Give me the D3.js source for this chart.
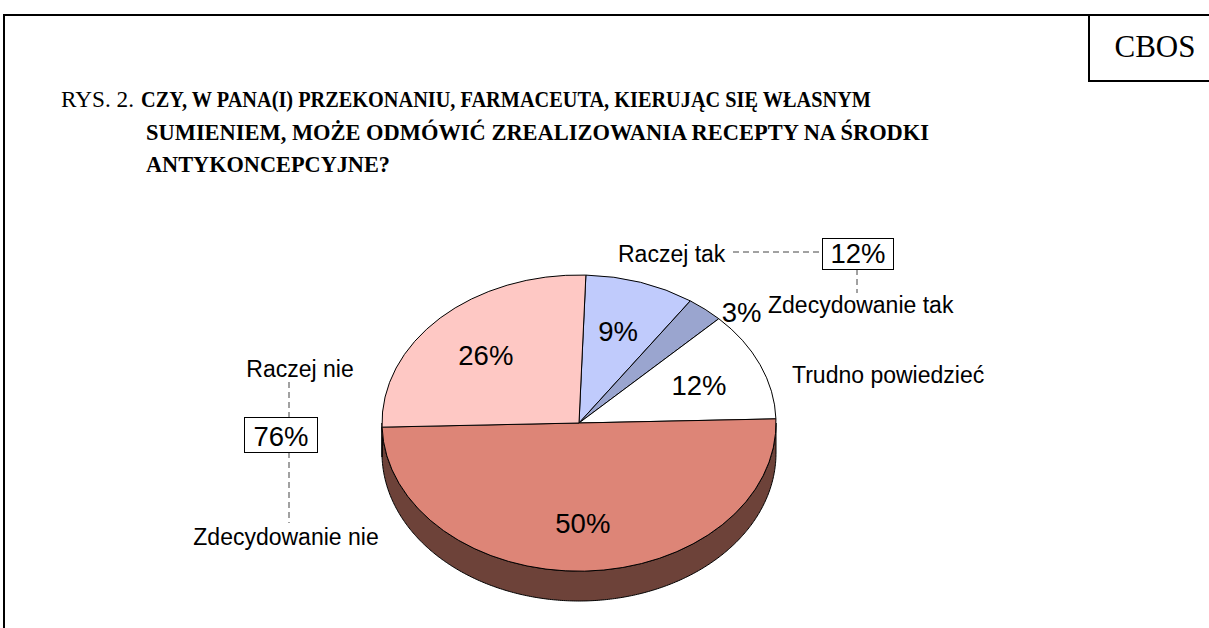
<!DOCTYPE html>
<html>
<head>
<meta charset="utf-8">
<script src="https://cdnjs.cloudflare.com/ajax/libs/d3/7.8.5/d3.min.js"></script>
<style>
  body { margin: 0; background: #fff; }
  svg { display: block; }
</style>
</head>
<body>
<div id="viz"></div>
<script>
// answers, values (%) and colours, clockwise from the top
const categories = ['Raczej tak', 'Zdecydowanie tak', 'Trudno powiedzieć', 'Zdecydowanie nie', 'Raczej nie'];
const values = [9, 3, 12, 50, 26];
const faceColors = ['#c0cbfc', '#9aa5cf', '#ffffff', '#dd8577', '#fec8c4'];
const sideColors = ['#6a7096', '#5a6180', '#9a9a9a', '#6d4239', '#8c6a68'];

// grouped totals shown in boxes
const groups = [
  { total: '12%', top: 'Raczej tak', bottom: 'Zdecydowanie tak' },
  { total: '76%', top: 'Raczej nie', bottom: 'Zdecydowanie nie' }];

const titleLead = 'RYS. 2. ';
const titleLines = [
  'CZY, W PANA(I) PRZEKONANIU, FARMACEUTA, KIERUJĄC SIĘ WŁASNYM',
  'SUMIENIEM, MOŻE ODMÓWIĆ ZREALIZOWANIA RECEPTY NA ŚRODKI',
  'ANTYKONCEPCYJNE?'];

const w = 1209;
const h = 628;

const svg = d3.select('#viz').
append('svg').
attr('width', w).
attr('height', h);

// page frame + CBOS box
svg.append('path').
attr('d', 'M4,628 V15 H1209 M1089,15 V81 H1209').
attr('fill', 'none').
attr('stroke', '#000').
attr('stroke-width', 2);

svg.append('text').
attr('x', 1155).
attr('y', 57).
attr('text-anchor', 'middle').
attr('font-family', 'Liberation Serif, Times New Roman, serif').
attr('font-size', 31).
attr('textLength', 81).
attr('lengthAdjust', 'spacingAndGlyphs').
text('CBOS');

// title
const title = svg.append('g').
attr('font-family', 'Liberation Serif, Times New Roman, serif').
attr('font-size', 23.5);

title.append('text').
attr('x', 61).
attr('y', 107).
attr('textLength', 73).
attr('lengthAdjust', 'spacingAndGlyphs').
text(titleLead.trim());

// line widths as in the printed figure
const titleX = [141, 146, 146];
const titleW = [730, 783, 244];

title.selectAll('text.line').
data(titleLines).
enter().
append('text').
attr('class', 'line').
attr('x', (d, i) => titleX[i]).
attr('y', (d, i) => 107 + i * 32.5).
attr('font-weight', 'bold').
attr('textLength', (d, i) => titleW[i]).
attr('lengthAdjust', 'spacingAndGlyphs').
text(d => d);

// pie, drawn as a tilted ellipse
const cx = 579;
const cy = 423;
const rx = 197;
const ry = 148;
const depth = 30;

const pie = d3.pie().
sort(null).
startAngle(2 * Math.PI / 180).
endAngle(2 * Math.PI / 180 + 2 * Math.PI).
value(d => d);

const slices = pie(values);

const px = a => cx + rx * Math.sin(a);
const py = a => cy - ry * Math.cos(a);

// visible side band (front half only)
const side = d => {
  const a0 = Math.max(d.startAngle, Math.PI / 2);
  const a1 = Math.min(d.endAngle, Math.PI * 3 / 2);
  if (a1 <= a0) return null;
  const top = d3.range(a0, a1, 0.01).concat([a1]);
  const pts = top.map(a => [px(a), py(a)]).
  concat(top.slice().reverse().map(a => [px(a), py(a) + depth]));
  return d3.line()(pts) + 'Z';
};

const pieG = svg.append('g');

pieG.selectAll('path.side').
data(slices.filter(d => side(d) != null)).
enter().
append('path').
attr('class', 'side').
attr('d', side).
attr('fill', d => sideColors[d.index]).
attr('stroke', '#000').
attr('stroke-width', 1);

const arc = d3.arc().
innerRadius(0).
outerRadius(rx);

pieG.append('g').
attr('transform', `translate(${cx},${cy}) scale(1,${ry / rx})`).
selectAll('path.face').
data(slices).
enter().
append('path').
attr('class', 'face').
attr('d', arc).
attr('fill', d => faceColors[d.index]).
attr('stroke', '#000').
attr('stroke-width', 1).
attr('vector-effect', 'non-scaling-stroke');

// percentage labels: radial factors (x, y) along each slice's middle
const labelPos = [
  [0.634, 0.654], // 9%
  [1.29, 0.98], // 3%
  [0.663, 0.652], // 12%
  [0.7, 0.676], // 50%
  [0.671, 0.647]]; // 26%

svg.append('g').
attr('font-family', 'Liberation Sans, Arial, sans-serif').
attr('font-size', 27.5).
selectAll('text').
data(slices).
enter().
append('text').
attr('text-anchor', 'middle').
attr('x', d => {
  const a = (d.startAngle + d.endAngle) / 2;
  return cx + rx * labelPos[d.index][0] * Math.sin(a);
}).
attr('y', d => {
  const a = (d.startAngle + d.endAngle) / 2;
  return cy - ry * labelPos[d.index][1] * Math.cos(a) + 10;
}).
text(d => d.data + '%');

// category labels
const catPos = [
  [618, 262, 'start'],
  [768, 313, 'start'],
  [792, 383, 'start'],
  [286, 545, 'middle'],
  [300, 377, 'middle']];

const lab = svg.append('g').
attr('font-family', 'Liberation Sans, Arial, sans-serif').
attr('font-size', 23);

lab.selectAll('text').
data(categories).
enter().
append('text').
attr('x', (d, i) => catPos[i][0]).
attr('y', (d, i) => catPos[i][1]).
attr('text-anchor', (d, i) => catPos[i][2]).
text(d => d);

// total boxes with dashed leaders
const leaders = [
  'M733,252 H822 M857,269 V293',
  'M289,382 V417 M289,452 V523'];
const boxes = [[822, 238, 71, 31], [244, 417, 73, 35]];

svg.selectAll('path.leader').
data(leaders).
enter().
append('path').
attr('class', 'leader').
attr('d', d => d).
attr('fill', 'none').
attr('stroke', '#444').
attr('stroke-width', 1).
attr('stroke-dasharray', '6,4');

const box = svg.selectAll('g.box').
data(groups).
enter().
append('g').
attr('class', 'box');

box.append('rect').
attr('x', (d, i) => boxes[i][0] + 0.5).
attr('y', (d, i) => boxes[i][1] + 0.5).
attr('width', (d, i) => boxes[i][2]).
attr('height', (d, i) => boxes[i][3]).
attr('fill', '#fff').
attr('stroke', '#000').
attr('stroke-width', 1);

box.append('text').
attr('x', (d, i) => boxes[i][0] + boxes[i][2] / 2 + 0.5).
attr('y', (d, i) => boxes[i][1] + boxes[i][3] - 6).
attr('text-anchor', 'middle').
attr('font-family', 'Liberation Sans, Arial, sans-serif').
attr('font-size', 27.5).
text(d => d.total);
</script>
</body>
</html>
